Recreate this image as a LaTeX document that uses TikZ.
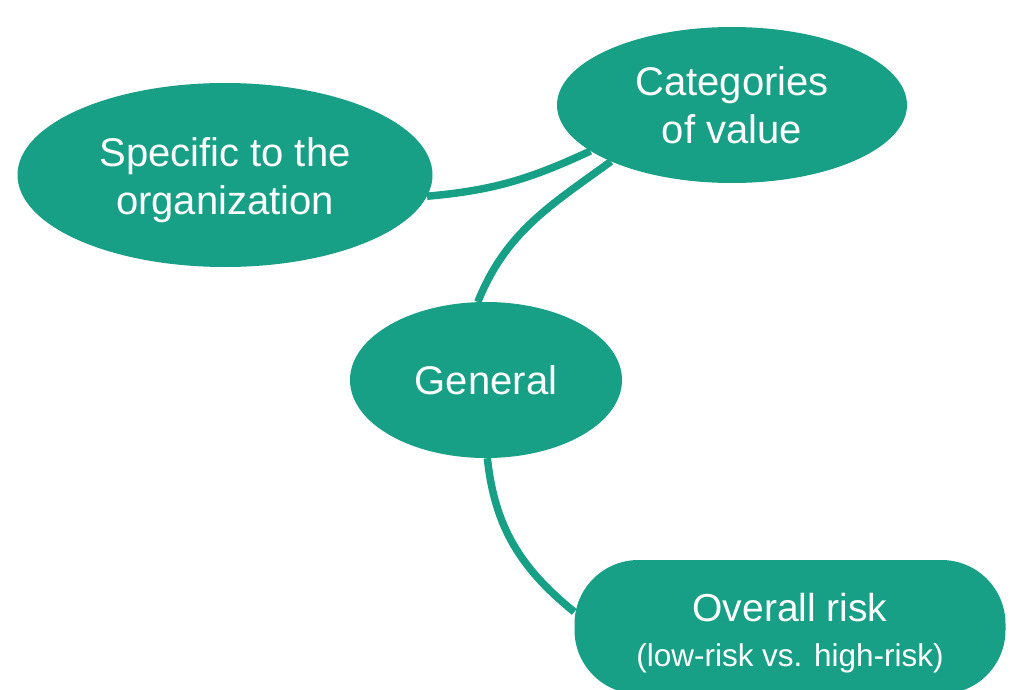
\documentclass[tikz,border=0pt]{standalone}
\usepackage{fontspec}
\setmainfont{Liberation Sans}
\usetikzlibrary{shapes.geometric}
\definecolor{teal1}{RGB}{23,160,133}
\begin{document}
\begin{tikzpicture}[x=1pt,y=-1pt,
  bubble/.style={ellipse,fill=teal1,inner sep=0pt},
  pill/.style={rectangle,rounded corners=64pt,fill=teal1,inner sep=0pt},
  lbl/.style={text=white,inner sep=0pt,align=center,font=\fontsize{40}{48}\selectfont},
  link/.style={draw=teal1,line width=7.5pt}]
\useasboundingbox (0,0) rectangle (1011,690);
\node[bubble,minimum width=350pt,minimum height=156pt] (cat) at (732,105) {};
\node[bubble,minimum width=415pt,minimum height=184pt] (spec) at (225,175) {};
\node[bubble,minimum width=272pt,minimum height=156pt] (gen) at (486,380) {};
\node[pill,minimum width=431pt,minimum height=134pt] (risk) at (790,627) {};
\node[lbl] (catt) at (cat.center) {Categories\\of value};
\node[lbl] (spect) at ([yshift=-5pt]spec.center) {Specific to the\\organization};
\node[lbl] (gent) at (gen.center) {General};
\node[lbl,font=\fontsize{39}{45}\selectfont] (riskt) at ([yshift=-6pt]risk.center)
  {Overall risk\\{\fontsize{31.5}{45}\selectfont (low-risk vs. high-risk)}};
\draw[link] (spec.-6) to[out=5,in=205] (cat.198);
\draw[link] (cat.205) to[out=216,in=68] (gen.96);
\draw[link] (gen.271) to[out=-84,in=141] (risk.176);
\end{tikzpicture}
\end{document}
